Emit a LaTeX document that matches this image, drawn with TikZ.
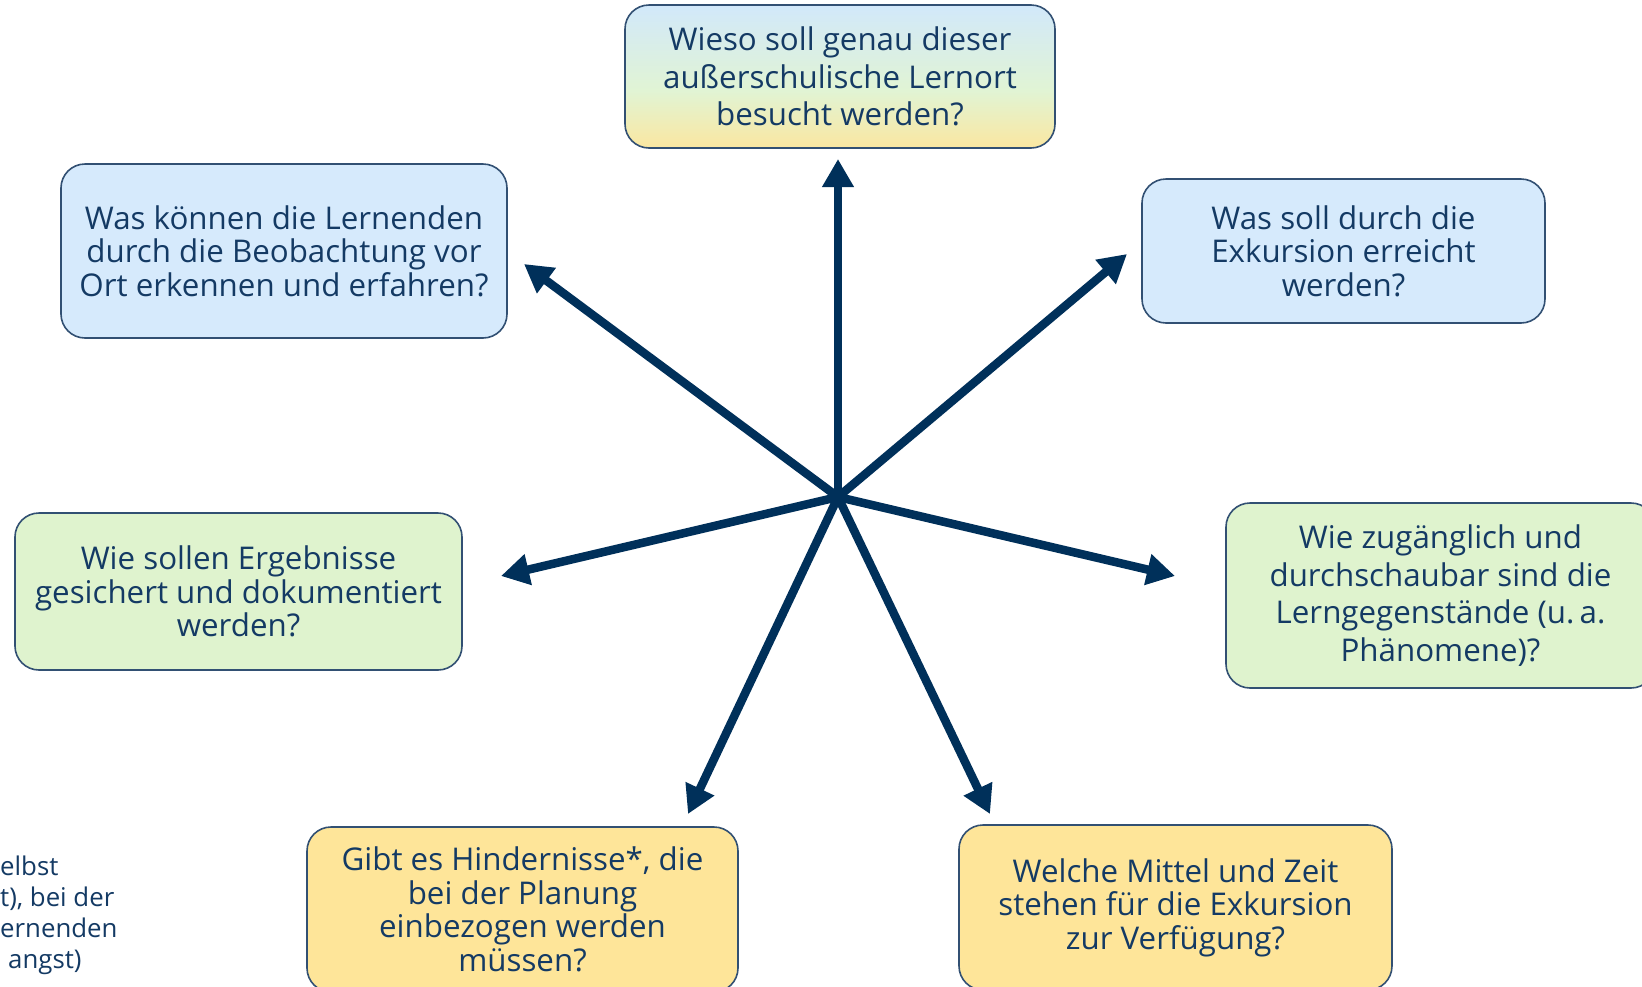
\documentclass[tikz,border=0pt]{standalone}
\usepackage{fontspec}
\setmainfont{Open Sans}
\usetikzlibrary{arrows.meta}
\definecolor{navy}{RGB}{0,48,90}
\definecolor{txt}{RGB}{20,58,100}
\definecolor{edge}{RGB}{50,80,115}
\definecolor{fblue}{RGB}{214,234,252}
\definecolor{fgreen}{RGB}{223,243,206}
\definecolor{fyellow}{RGB}{254,229,153}
\definecolor{gtop}{RGB}{208,231,254}
\definecolor{gmid}{RGB}{225,244,212}
\pgfdeclareverticalshading{topgrad}{100bp}{color(0bp)=(fyellow); color(22bp)=(fyellow); color(45bp)=(gmid); color(78bp)=(gtop); color(100bp)=(gtop)}
\begin{document}
\begin{tikzpicture}[x=1pt,y=-1pt,
  qbox/.style={draw=edge,line width=1.6pt,rounded corners=24pt,align=center,text=txt,inner sep=0pt},
  narrow/.style={font=\fontsize{31.3}{33.5}\selectfont},
  wide/.style={font=\fontsize{31.3}{37.7}\selectfont},
  arr/.style={draw=navy,line width=8.5pt,-{Triangle[length=28pt,width=30pt]}},
  note/.style={anchor=mid west,inner sep=0pt,text=txt,font=\fontsize{25.8}{31}\selectfont}]
\clip (0,0) rectangle (1642,986);
\fill[white] (0,0) rectangle (1642,986);
% boxes
\node[qbox,wide,shading=topgrad,minimum width=430pt,minimum height=143pt] (top) at (840,76.5)
  {Wieso soll genau dieser\\außerschulische Lernort\\besucht werden?};
\node[qbox,narrow,fill=fblue,minimum width=446pt,minimum height=174pt] (ul) at (284,251)
  {Was können die Lernenden\\durch die Beobachtung vor\\Ort erkennen und erfahren?};
\node[qbox,narrow,fill=fblue,minimum width=403pt,minimum height=144pt] (ur) at (1343.5,251)
  {Was soll durch die\\Exkursion erreicht\\werden?};
\node[qbox,narrow,fill=fgreen,minimum width=447pt,minimum height=157pt] (le) at (238.5,591.5)
  {Wie sollen Ergebnisse\\gesichert und dokumentiert\\werden?};
\node[qbox,wide,fill=fgreen,minimum width=429pt,minimum height=185pt] (ri) at (1440.5,595.5)
  {Wie zugänglich und\\durchschaubar sind die\\Lerngegenstände (u.\,a.\\Phänomene)?};
\node[qbox,narrow,fill=fyellow,minimum width=431pt,minimum height=165pt] (bl) at (522.5,909.5)
  {Gibt es Hindernisse*, die\\bei der Planung\\einbezogen werden\\müssen?};
\node[qbox,narrow,fill=fyellow,minimum width=433pt,minimum height=165pt] (br) at (1175.5,907.5)
  {Welche Mittel und Zeit\\stehen für die Exkursion\\zur Verfügung?};
% footnote fragments (cut at the left edge)
\node[note] (n1) at (0,873) {elbst};
\node[note] (n2) at (0,904) {t), bei der};
\node[note] (n3) at (0,935) {ernenden};
\node[note] (n4) at (8,966) {angst)};
% hub and arrow tips
\coordinate (hub) at (838,497);
\coordinate (tTop) at (838,159);
\coordinate (tUL) at (524,264);
\coordinate (tUR) at (1127,254);
\coordinate (tLe) at (501,576);
\coordinate (tRi) at (1175,576);
\coordinate (tBL) at (688,814);
\coordinate (tBR) at (990,814);
\foreach \t in {tTop,tUL,tUR,tLe,tRi,tBL,tBR}
  \draw[arr] (hub) -- (\t);
\end{tikzpicture}
\end{document}
